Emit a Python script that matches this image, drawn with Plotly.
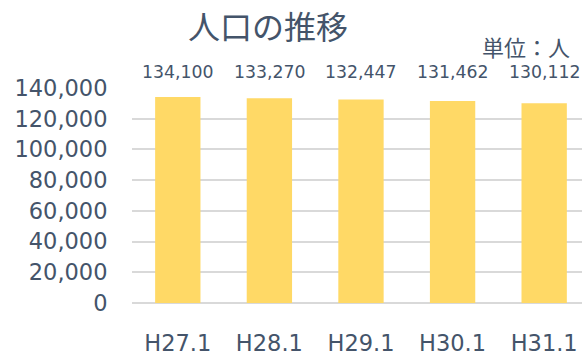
import plotly.graph_objects as go

# Population at January 1 of each year (persons)
categories = ["H27.1", "H28.1", "H29.1", "H30.1", "H31.1"]
population = [134100, 133270, 132447, 131462, 130112]
y_ticks = [0, 20000, 40000, 60000, 80000, 100000, 120000, 140000]
y_tick_text = [f"{v:,}" for v in y_ticks]

TEXT = "#44546A"
BAR = "#FFD966"
GRID = "#D9D9D9"
FONT = "DejaVu Sans, Noto Sans CJK JP, sans-serif"

W, H = 582, 356
ML, MR, MT, MB = 132, 0, 88, 49


def paper_x(px):
    return (px - ML) / (W - ML - MR)


def paper_y(py):
    return (H - MB - py) / (H - MT - MB)


fig = go.Figure(
    go.Bar(
        x=list(range(len(categories))),
        y=population,
        marker=dict(color=BAR, line=dict(width=0)),
        width=0.495,
        hoverinfo="skip",
    )
)

# Value labels in a row above the plot area
for i, v in enumerate(population):
    fig.add_annotation(
        x=i, y=1, xref="x", yref="paper", yanchor="middle", yshift=16,
        text=f"{v:,}", showarrow=False,
        font=dict(family=FONT, size=17.3, color=TEXT),
    )

fig.add_annotation(
    x=paper_x(268), y=paper_y(27), xref="paper", yref="paper",
    xanchor="center", yanchor="middle", showarrow=False,
    text="人口の推移", font=dict(family=FONT, size=32, color=TEXT),
)
fig.add_annotation(
    x=paper_x(572), y=paper_y(48), xref="paper", yref="paper",
    xanchor="right", yanchor="middle", showarrow=False,
    text="単位：人", font=dict(family=FONT, size=22, color=TEXT),
)

fig.update_layout(
    width=W, height=H,
    margin=dict(l=ML, r=MR, t=MT, b=MB),
    paper_bgcolor="white", plot_bgcolor="white",
    showlegend=False,
    font=dict(family=FONT, color=TEXT),
)

fig.update_xaxes(
    range=[-0.5, 4.413],
    tickmode="array", tickvals=list(range(len(categories))), ticktext=categories,
    tickfont=dict(family=FONT, size=22.5, color=TEXT),
    ticks="outside", ticklen=20, tickcolor="rgba(0,0,0,0)",
    showgrid=False, showline=False, zeroline=False,
)
fig.update_yaxes(
    range=[0, 140000],
    tickmode="array", tickvals=y_ticks, ticktext=y_tick_text,
    tickfont=dict(family=FONT, size=22.5, color=TEXT),
    ticks="outside", ticklen=19, tickcolor="rgba(0,0,0,0)",
    showgrid=True, gridcolor=GRID, gridwidth=2,
    zeroline=True, zerolinecolor=GRID, zerolinewidth=2,
    showline=False,
)

fig.write_html("out.html")
